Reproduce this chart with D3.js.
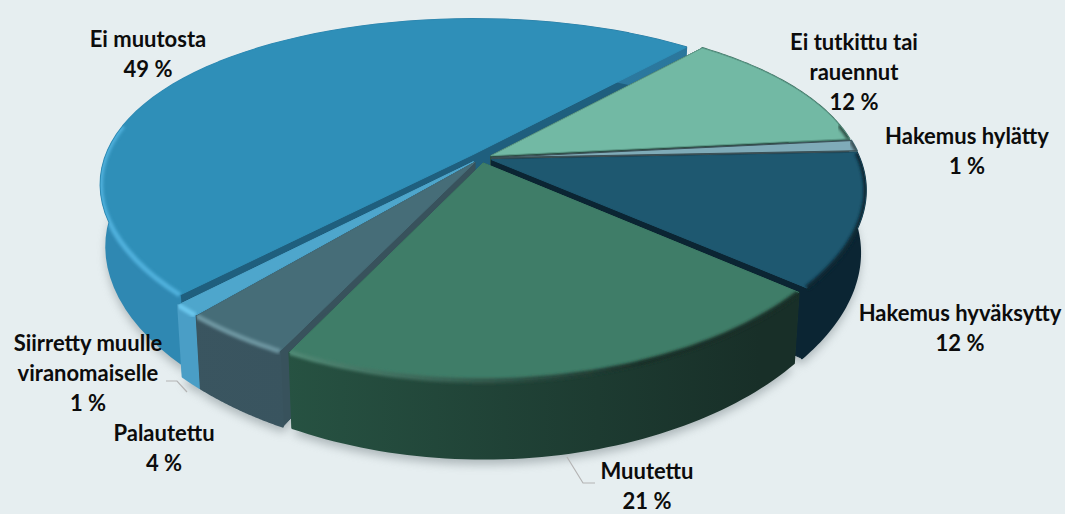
<!DOCTYPE html>
<html>
<head>
<meta charset="utf-8">
<script src="https://cdn.jsdelivr.net/npm/d3@7"></script>
<style>
  html, body { margin: 0; padding: 0; background: #e6eef0; }
  text { font-family: Lato, "Open Sans", sans-serif; font-weight: 700; font-size: 22px; fill: #0c0c0c; }
</style>
</head>
<body>
<div id="chart"></div>
<script>
// data, clockwise from the "Ei tutkittu" edge
const categories = ["Ei tutkittu tai rauennut", "Hakemus hylätty", "Hakemus hyväksytty", "Muutettu", "Palautettu", "Siirretty muulle viranomaiselle", "Ei muutosta"];
const values = [12, 1, 12, 21, 4, 1, 49];

// colours per slice
const faceColors = ["#72b9a4", "#7fabb8", "#1e5870", "#3f7d68", "#466d78", "#4ea6cc", "#2f8fb8"];
const faceStrokes = ["#5d9c8a", "#3a4f55", "#1e5870", "#3f7d68", "#466d78", "#4ea6cc", "#2f8fb8"];
const wallLeft = ["#4f8f7c", "#5a8896", "#0e2d3d", "#2a5a48", "#3a5560", "#4a9ec6", "#2f88b2"];
const wallRight = ["#3c6f60", "#46707c", "#0b2533", "#182f28", "#35505a", "#4a9ec6", "#2a7499"];
const cutColors = ["#2d4f45", "#3a4f55", "#0b2533", "#2a5a48", "#38525c", "#3a7fa0", "#1f5f7e"];
const rimLeft = ["#8accb8", "#9cc6d2", "#1e5870", "#62a58d", "#6f97a2", "#6cc8ee", "#4fb0dc"];
const rimRight = ["#2d4f45", "#3a4f55", "#0b2533", "#182f28", "#5d8490", "#6cc8ee", "#2f88b2"];

// drawn back to front
const drawOrder = [6, 0, 1, 2, 5, 4, 3];

const labelLines = [["Ei tutkittu tai", "rauennut"], ["Hakemus hylätty"], ["Hakemus hyväksytty"], ["Muutettu"], ["Palautettu"], ["Siirretty muulle", "viranomaiselle"], ["Ei muutosta"]];
const labelAnchors = [[854, 50], [967, 144], [960, 321], [647, 479], [164, 441], [88, 351], [148, 47]];
const leaders = [
  [[567, 457], [583, 483], [595, 483]],
  [[166, 381], [177, 381], [187, 392]]
];

const width = 1065;
const height = 514;
const cx = 481, cy = 158;
const Rx = 368, Ry = 167;   // pie radius on screen before perspective
const perspX = 0.17;        // nearer edge is drawn bigger, less so sideways
const perspY = 0.222;
const depth = 60;           // wall height
const taper = 0.015;        // wall bottom leans inwards
const explode = 0.03;
const startDeg = 40.8;

const svg = d3.select("#chart").append("svg")
  .attr("width", width)
  .attr("height", height)
  .style("display", "block");

const defs = svg.append("defs");
defs.append("filter").attr("id", "blurShadow")
  .attr("x", "-10%").attr("y", "-10%").attr("width", "120%").attr("height", "130%")
  .append("feGaussianBlur").attr("stdDeviation", 5);
defs.append("filter").attr("id", "blurRim")
  .attr("x", "-10%").attr("y", "-10%").attr("width", "120%").attr("height", "120%")
  .append("feGaussianBlur").attr("stdDeviation", 1.8);

function hGrad(id, c0, c1, x0, x1) {
  const g = defs.append("linearGradient").attr("id", id)
    .attr("gradientUnits", "userSpaceOnUse")
    .attr("x1", x0).attr("y1", 0).attr("x2", x1).attr("y2", 0);
  g.append("stop").attr("offset", "0%").attr("stop-color", c0);
  g.append("stop").attr("offset", "100%").attr("stop-color", c1);
}

const pie = d3.pie().sort(null)
  .startAngle(startDeg * Math.PI / 180)
  .endAngle((startDeg + 360) * Math.PI / 180);
const arcs = pie(values);

const line = d3.line();

function project(a, r, z, mid) {
  const u = r * Math.sin(a) + explode * Math.sin(mid);
  const v = -r * Math.cos(a) - explode * Math.cos(mid);
  const dy = 1 - perspY * v;
  return [cx + (1 - taper * z) * Rx * u / (1 - perspX * v), cy + Ry * v / dy + z * depth / dy];
}

function arcAngles(d) {
  return d3.range(0, 61).map(i => d.startAngle + (d.endAngle - d.startAngle) * i / 60);
}

function arcPoints(d, z) {
  const mid = (d.startAngle + d.endAngle) / 2;
  return arcAngles(d).map(a => project(a, 1, z, mid));
}

const shadow = svg.append("g").attr("filter", "url(#blurShadow)").attr("opacity", 0.55);
const slices = svg.append("g");

arcs.forEach((d, i) => {
  hGrad(`wall-${i}`, wallLeft[i], wallRight[i], 180, 760);
  hGrad(`rim-${i}`, rimLeft[i], rimRight[i], 180, 640);
});

drawOrder.forEach(i => {
  const d = arcs[i];
  const mid = (d.startAngle + d.endAngle) / 2;
  const top = arcPoints(d, 0);
  const bottom = arcPoints(d, 1);
  const apexTop = project(0, 0, 0, mid);
  const apexBottom = project(0, 0, 1, mid);
  const wallPts = top.concat(bottom.slice().reverse());
  const g = slices.append("g");

  shadow.append("path")
    .attr("d", line(bottom.concat([apexBottom])) + "Z")
    .attr("transform", "translate(0,6)")
    .attr("fill", "#7f8a8e");

  [[top[0], bottom[0]], [top[60], bottom[60]]].forEach(pair => {
    g.append("path")
      .attr("d", line([apexTop, pair[0], pair[1], apexBottom]) + "Z")
      .attr("fill", cutColors[i])
      .attr("stroke", cutColors[i]);
  });

  g.append("path")
    .attr("d", line(wallPts) + "Z")
    .attr("fill", `url(#wall-${i})`)
    .attr("stroke", `url(#wall-${i})`)
    .attr("stroke-width", 2)
    .attr("stroke-linejoin", "round");

  const facePath = line([apexTop].concat(top)) + "Z";
  g.append("path")
    .attr("d", facePath)
    .attr("fill", faceColors[i])
    .attr("stroke", faceStrokes[i])
    .attr("stroke-width", 1)
    .attr("stroke-linejoin", "round");

  // soft lit bevel, only on the part of the rim facing the viewer
  const frontRim = arcAngles(d)
    .filter(a => Math.cos(a) < 0.2)
    .map(a => project(a, 1, 0, mid));
  if (frontRim.length > 1) {
    const clipId = `clip-${i}`;
    defs.append("clipPath").attr("id", clipId)
      .append("path").attr("d", line(wallPts) + "Z" + facePath);
    g.append("g").attr("clip-path", `url(#${clipId})`)
      .append("path")
      .attr("d", line(frontRim))
      .attr("fill", "none")
      .attr("stroke", `url(#rim-${i})`)
      .attr("stroke-width", 5)
      .attr("filter", "url(#blurRim)");
  }
});

// labels
arcs.forEach((d, i) => {
  const lines = labelLines[i].concat([`${values[i]} %`]);
  const t = svg.append("text")
    .attr("x", labelAnchors[i][0])
    .attr("y", labelAnchors[i][1])
    .attr("text-anchor", "middle");
  lines.forEach((s, j) => {
    t.append("tspan")
      .attr("x", labelAnchors[i][0])
      .attr("dy", j === 0 ? 0 : 30)
      .text(s);
  });
});

leaders.forEach(pts => {
  svg.append("path")
    .attr("d", line(pts))
    .attr("fill", "none")
    .attr("stroke", "#b4b4b4")
    .attr("stroke-width", 1.2);
});
</script>
</body>
</html>
